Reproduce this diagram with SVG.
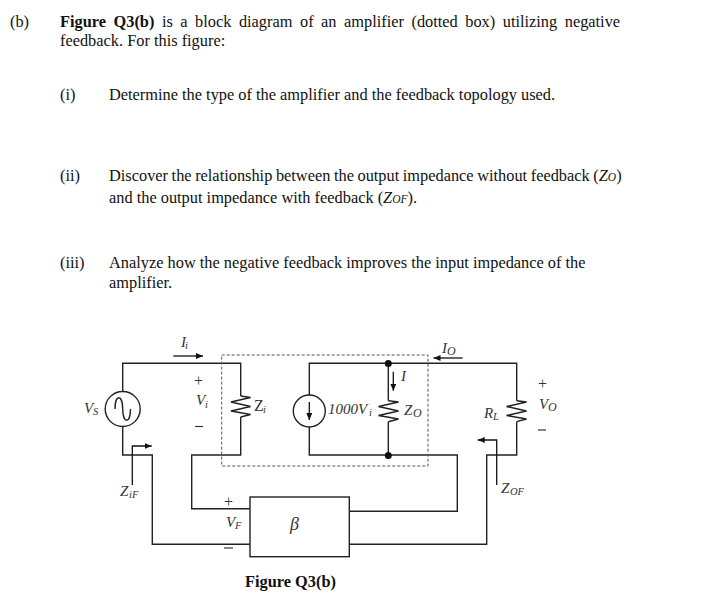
<svg xmlns="http://www.w3.org/2000/svg" width="705" height="598" viewBox="0 0 705 598">
<defs>
<style>
text{font-family:"Liberation Serif","Times New Roman",serif;fill:#111}
.t{font-size:16.35px}
.l{font-size:15px;font-style:italic;fill:#333}
.s{font-size:10.500px;font-style:italic;fill:#333}
.u{font-size:16px;fill:#333}
.w{fill:none;stroke:#222;stroke-width:1.4}
.a{fill:none;stroke:#111;stroke-width:1.3}
</style>
<marker id="h" markerUnits="userSpaceOnUse" markerWidth="8" markerHeight="7" refX="7" refY="3" orient="auto"><path d="M0 0L7 3L0 6Z" fill="#111"/></marker>
</defs>
<rect width="705" height="598" fill="#fff"/>
<g id="question">
<text class="t" x="10" y="27">(b)</text>
<text class="t" x="60" y="27" word-spacing="3.430"><tspan font-weight="bold">Figure Q3(b)</tspan> is a block diagram of an amplifier (dotted box) utilizing negative</text>
<text class="t" x="60" y="46">feedback. For this figure:</text>
<text class="t" x="60" y="100">(i)</text>
<text class="t" x="109" y="100">Determine the type of the amplifier and the feedback topology used.</text>
<text class="t" x="60" y="181">(ii)</text>
<text class="t" x="109" y="181" word-spacing="-0.500">Discover the relationship between the output impedance without feedback (<tspan font-style="italic">Z</tspan><tspan font-style="italic" font-size="11.500">O</tspan>)</text>
<text class="t" x="109" y="203">and the output impedance with feedback (<tspan font-style="italic">Z</tspan><tspan font-style="italic" font-size="11.500">OF</tspan>).</text>
<text class="t" x="60" y="268">(iii)</text>
<text class="t" x="109" y="268">Analyze how the negative feedback improves the input impedance of the</text>
<text class="t" x="109" y="288">amplifier.</text>
</g>
<g id="connectors">
<path class="w" d="M122.700 391V363.300H240.700V396M240.700 417V455H191.700V508.700H250"/>
<path class="w" d="M122.700 427V455H152.300V544.300H250"/>
<path class="w" d="M309.300 395V363.300H516.700V400.700M516.700 421.700V455H486.700V544.300H349.300"/>
<path class="w" d="M309.300 427V455H457.300V511.300H349.300"/>
<path class="w" d="M388.300 363.300V400.700M388.300 421.700V455"/>
<path class="a" marker-end="url(#h)" d="M173.300 356H203"/>
<path class="a" marker-end="url(#h)" d="M462.700 358H433.500"/>
<path class="a" marker-end="url(#h)" d="M393.300 371.700V390.700"/>
<path class="a" marker-end="url(#h)" d="M132.300 485V446H151.700"/>
<path class="a" marker-end="url(#h)" d="M496.700 485V440H477.700"/>
</g>
<g id="amplifier-box"><rect x="221.700" y="355" width="206.300" height="111" fill="none" stroke="#555" stroke-width="1" stroke-dasharray="3 2"/></g>
<g id="vs">
<circle class="w" cx="122.700" cy="409" r="17.500" fill="#fff"/>
<path class="w" d="M115 409C115 394 122.500 394 122.700 409S130.500 424 130.500 409"/>
<text class="l" x="84" y="413">V</text><text class="s" x="93" y="415">S</text>
</g>
<g id="zi">
<path class="w" d="M240.700 396L250.500 397.500L231 402L250.500 406.500L231 411L250.500 414.500L240.700 417"/>
<text class="u" x="254" y="411">Z</text><text class="s" x="263" y="413" font-style="normal">i</text>
</g>
<g id="vi-label">
<text class="u" x="194" y="386">+</text>
<text class="l" x="196" y="405">V</text><text class="s" x="205" y="408">i</text>
<path d="M195 426.500H203" stroke="#333" stroke-width="1.200"/>
</g>
<g id="source">
<circle class="w" cx="309.300" cy="411" r="16" fill="#fff"/>
<path class="a" marker-end="url(#h)" d="M309.300 402V420"/>
<text class="l" x="328" y="414">1000V</text><text class="s" x="369" y="416" font-style="normal">i</text>
</g>
<g id="zo">
<path class="w" d="M388.300 400.700L398.500 402L378.500 406.500L398.500 411L378.500 415.500L398.500 419L388.300 421.700"/>
<text class="l" x="404" y="415">Z</text><text class="l" x="413" y="417" style="font-size:12px">O</text>
<circle cx="388.300" cy="363.500" r="3.500" fill="#111"/>
<circle cx="388.300" cy="455.500" r="3.500" fill="#111"/>
<text class="l" x="401" y="381">I</text>
</g>
<g id="rl">
<path class="w" d="M516.700 400.700L526.500 402L506.500 406.500L526.500 411L506.500 415.500L526.500 419L516.700 421.700"/>
<text class="l" x="484" y="418">R</text><text class="s" x="493" y="420">L</text>
</g>
<g id="vo-label">
<text class="u" x="538" y="389">+</text>
<text class="l" x="539" y="409">V</text><text class="l" x="548" y="411" style="font-size:12px">O</text>
<path d="M538 430H546" stroke="#333" stroke-width="1.200"/>
</g>
<g id="beta">
<rect class="w" x="250" y="497" width="99.300" height="59.700" fill="#fff"/>
<text class="l" x="290" y="530" style="font-size:18px">β</text>
</g>
<g id="vf-label">
<text class="u" x="224" y="507">+</text>
<text class="l" x="226" y="527">V</text><text class="s" x="235" y="529">F</text>
<path d="M224 548H233" stroke="#333" stroke-width="1.200"/>
</g>
<g id="labels">
<text class="l" x="181" y="347">I</text><text class="s" x="185" y="349">i</text>
<text class="l" x="442" y="353">I</text><text class="s" x="447" y="355" style="font-size:12px">O</text>
<text class="l" x="120" y="496">Z</text><text class="s" x="129" y="498">iF</text>
<text class="l" x="501" y="493">Z</text><text class="s" x="510" y="495">OF</text>
</g>
<g id="caption"><text x="245" y="587" font-size="16.350" font-weight="bold">Figure Q3(b)</text></g>
</svg>
